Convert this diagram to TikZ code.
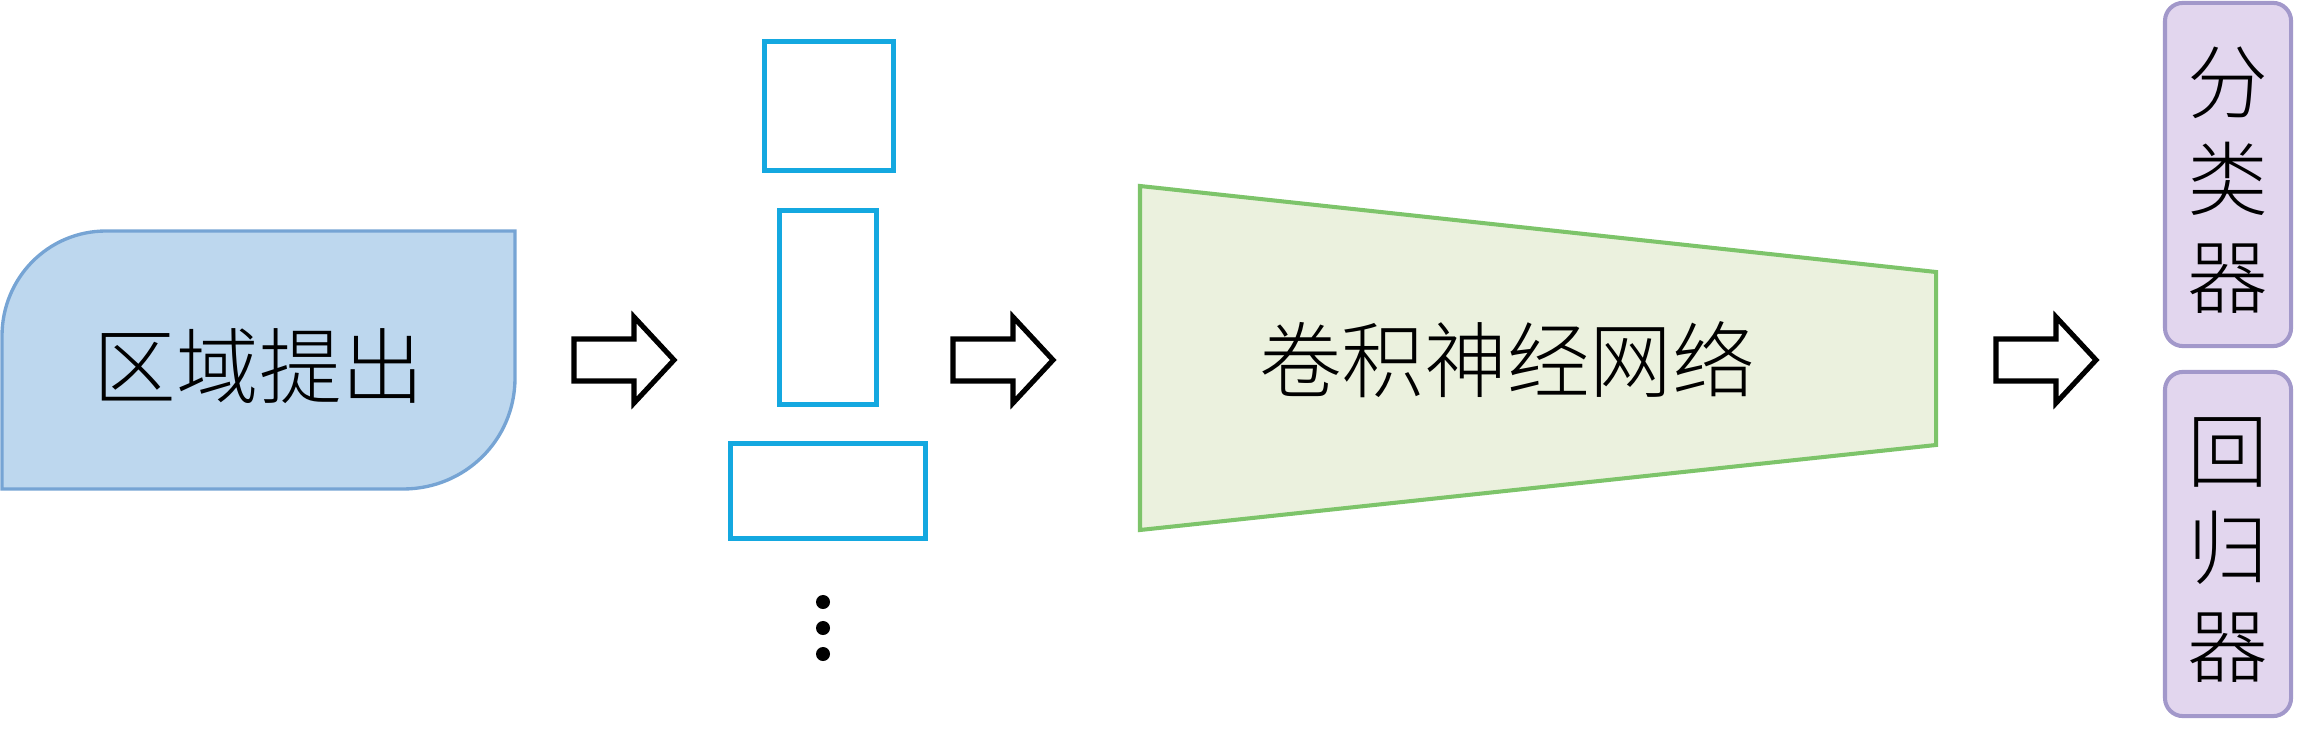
\documentclass[tikz,border=0pt]{standalone}
\usepackage{fontspec}
\newfontfamily\cjk{Noto Sans CJK SC Light}
\definecolor{regionfill}{RGB}{189,215,238}
\definecolor{regionline}{RGB}{118,164,212}
\definecolor{propblue}{RGB}{20,168,224}
\definecolor{cnnfill}{RGB}{235,241,222}
\definecolor{cnnline}{RGB}{125,196,106}
\definecolor{headfill}{RGB}{226,214,238}
\definecolor{headline}{RGB}{162,152,202}

\begin{document}
\begin{tikzpicture}[x=0.01cm,y=-0.01cm]
    \tikzset{every node/.style={font=\cjk}}
    \tikzset{bigtext/.style={font=\cjk\fontsize{23.5}{28}\selectfont,inner sep=0pt}}
    \tikzset{propbox/.style={draw=propblue,line width=1.35pt,inner sep=0pt}}
    \tikzset{headbox/.style={draw=headline,fill=headfill,line width=1.15pt,rounded corners=0.18cm,minimum width=1.26cm,inner sep=0pt}}
    \tikzset{headtext/.style={inner sep=0pt,align=center,font=\cjk\fontsize{23}{27.8}\selectfont}}
    \tikzset{hollowarrow/.style={draw=black,fill=white,line width=1.45pt,line join=miter}}
    \useasboundingbox (0,0) rectangle (2319,743);
    % region proposal
    \filldraw[draw=regionline,fill=regionfill,line width=0.95pt] (2,489) -- (2,336) .. controls (2,278) and (48,231) .. (106,231) -- (515,231) -- (515,378) .. controls (515,440) and (465,489) .. (403,489) -- cycle;
    \node[bigtext] (region) at (259,366) {区域提出};
    % candidate boxes
    \node[propbox,minimum width=1.29cm,minimum height=1.29cm] (prop1) at (829,106) {};
    \node[propbox,minimum width=0.97cm,minimum height=1.94cm] (prop2) at (828,307.5) {};
    \node[propbox,minimum width=1.95cm,minimum height=0.95cm] (prop3) at (828,491) {};
    \foreach \y in {602,628,654}
        \fill (823,\y) circle (0.07cm);
    % cnn
    \filldraw[draw=cnnline,fill=cnnfill,line width=1.15pt] (1140,186) -- (1936,272) -- (1936,445) -- (1140,530) -- cycle;
    \node[font=\cjk\fontsize{23.5}{28}\selectfont,inner sep=0pt] (cnn) at (1507,360) {卷积神经网络};
    % heads
    \node[headbox,minimum height=3.43cm] (cls) at (2228,174.5) {};
    \node[headbox,minimum height=3.44cm] (reg) at (2228,544) {};
    \node[headtext] (clstext) at (2228,180) {分\\类\\器};
    \node[headtext] (regtext) at (2228,550) {回\\归\\器};
    % hollow arrows
    \foreach \x in {574,953,1996}
        \draw[hollowarrow] (\x,339) -- ++(60,0) -- ++(0,-22) -- ++(40,43) -- ++(-40,43) -- ++(0,-22) -- ++(-60,0) -- cycle;
\end{tikzpicture}
\end{document}
